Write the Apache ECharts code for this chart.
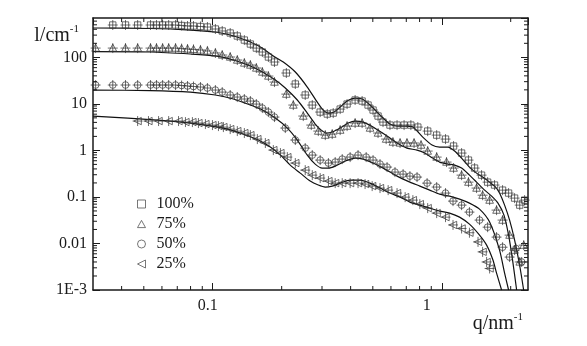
<!DOCTYPE html>
<html>
<head>
<meta charset="utf-8">
<script src="https://cdn.jsdelivr.net/npm/echarts@6/dist/echarts.min.js"></script>
<style>html,body{margin:0;padding:0;background:#fff;}#c{width:587px;height:346px;}</style>
</head>
<body>
<div id="c"></div>
<script>
// ---------- data ----------
const seriesNames = ['100%', '75%', '50%', '25%'];

const q100 = [0.0366,0.0416,0.047,0.0535,0.0568,0.0604,0.0642,0.0688,0.0731,0.0776,0.0824,0.0884,0.0948,0.1027,0.110,0.1192,0.128,0.1374,0.146,0.155,0.1647,0.175,0.186,0.2096,0.2294,0.2534,0.272,0.2945,0.3163,0.3358,0.3601,0.386,0.4185,0.449,0.4766,0.5012,0.527,0.554,0.594,0.638,0.6847,0.733,0.786,0.868,0.950,1.0385,1.126,1.2206,1.308,1.391,1.492,1.586,1.70,1.843,1.958,2.08,2.19,2.30];
const i100 = [495,495,495,495,495,495,495,495,483,471,471,460,448,406,368,333,287,235,193,158,130,101.5,79.3,46,26.7,15.5,9.43,6.66,6.04,6.34,7.73,9.9,12.1,11.5,9.43,7.36,5.47,4.06,3.5,3.5,3.5,3.5,3.17,2.6,2.13,1.75,1.24,0.876,0.619,0.417,0.294,0.208,0.18,0.14,0.121,0.0944,0.0667,0.0854];

const q75 = [0.0308,0.0366,0.0416,0.047,0.0535,0.0568,0.0604,0.0642,0.0688,0.0731,0.0776,0.0824,0.0884,0.0948,0.1027,0.110,0.1192,0.128,0.1374,0.146,0.155,0.1647,0.175,0.186,0.2096,0.2248,0.2485,0.2693,0.289,0.310,0.3324,0.3601,0.386,0.4185,0.449,0.4863,0.527,0.5718,0.612,0.6576,0.7049,0.757,0.812,0.868,0.950,1.049,1.126,1.2206,1.308,1.419,1.508,1.618,1.735,1.843,1.978,2.08,2.19,2.28];
const i75 = [158,158,158,158,158,158,158,158,158,154,151,148,144,137,124,112,101.5,87.5,75.4,68.3,58.9,48.3,39.6,29.4,16.2,9.43,5.47,3.5,2.6,2.13,2.24,2.73,3.33,3.87,3.87,3.02,2.36,1.75,1.51,1.44,1.44,1.44,1.3,0.967,0.718,0.561,0.417,0.294,0.208,0.155,0.109,0.0854,0.0521,0.0318,0.0151,0.0072,0.004,0.0092];

const q50 = [0.0308,0.0366,0.0416,0.047,0.0535,0.0568,0.0604,0.0642,0.0688,0.0731,0.0776,0.0824,0.0884,0.0948,0.1027,0.110,0.1192,0.128,0.1374,0.146,0.155,0.1647,0.175,0.186,0.2074,0.2294,0.2534,0.272,0.2945,0.320,0.3425,0.3676,0.398,0.431,0.4677,0.5012,0.5376,0.577,0.625,0.678,0.726,0.780,0.863,0.950,1.0385,1.12,1.2206,1.321,1.462,1.586,1.735,1.843,1.978,2.108,2.233];
const i50 = [25.4,25.4,25.4,25.4,25.4,25.4,25.4,25.4,25.4,24.8,24.2,23.6,23.0,21.9,19.8,17.9,15.5,14.0,12.7,11.5,9.9,8.12,6.66,5.2,3.02,1.67,1.12,0.793,0.619,0.534,0.561,0.65,0.718,0.793,0.718,0.619,0.508,0.438,0.342,0.309,0.28,0.267,0.198,0.163,0.121,0.0813,0.0667,0.0472,0.0318,0.0224,0.0137,0.0083,0.0051,0.0078,0.004];

const q25 = [0.047,0.0524,0.058,0.0642,0.0709,0.076,0.0815,0.0866,0.0929,0.0997,0.1059,0.1113,0.1192,0.128,0.1374,0.146,0.1566,0.1697,0.1839,0.1975,0.2117,0.2294,0.2534,0.272,0.2945,0.320,0.3425,0.3676,0.398,0.431,0.4626,0.4967,0.5376,0.5834,0.638,0.692,0.748,0.802,0.868,0.950,1.0385,1.12,1.2206,1.321,1.44,1.508,1.57,1.618];
const i25 = [4.27,4.27,4.27,4.27,4.27,4.06,4.06,3.87,3.68,3.5,3.33,3.17,2.87,2.6,2.36,2.13,1.75,1.44,1.016,0.876,0.718,0.534,0.377,0.294,0.254,0.219,0.198,0.198,0.198,0.198,0.189,0.171,0.155,0.14,0.121,0.099,0.0854,0.0701,0.0575,0.0449,0.0368,0.025,0.021,0.017,0.0108,0.0066,0.004,0.0029];

// fitted model curves
const fitQ100 = [0.030,0.0535,0.0799,0.1027,0.1192,0.1388,0.1614,0.1839,0.2033,0.2294,0.2587,0.286,0.3035,0.320,0.339,0.3601,0.386,0.4185,0.449,0.4863,0.5376,0.594,0.638,0.692,0.748,0.826,0.907,0.9785,1.065,1.138,1.2206,1.321,1.419,1.508,1.618,1.718,1.788,1.881,1.978,2.0805,2.188,2.278];
const fitI100 = [427,416,386,350,302,235,167,107,79.3,48.3,23,10.9,7.36,6.34,6.66,8.54,11.5,13.3,12.7,9.43,5.74,3.68,3.33,3.33,3.17,1.93,1.3,1.18,1.18,0.967,0.683,0.438,0.325,0.267,0.208,0.163,0.121,0.0667,0.0318,0.0118,0.0034,0.001];

const fitQ75 = [0.030,0.0535,0.0799,0.1027,0.1231,0.146,0.1647,0.1876,0.2074,0.234,0.2587,0.2801,0.2977,0.313,0.3324,0.3601,0.3906,0.4185,0.4539,0.5012,0.577,0.638,0.7049,0.780,0.843,0.9125,0.9785,1.065,1.138,1.2206,1.321,1.419,1.539,1.651,1.760,1.869,1.958,2.038,2.123];
const fitI75 = [132,130,118,107,87.5,65,48.3,32.5,21.9,12.1,6.34,3.68,2.73,2.36,2.48,3.02,3.87,4.27,4.06,3.17,2.03,1.44,1.12,1.016,0.876,0.683,0.561,0.508,0.483,0.417,0.294,0.208,0.14,0.104,0.0737,0.0407,0.0151,0.0044,0.001];

const fitQ50 = [0.030,0.0535,0.0799,0.1027,0.1231,0.146,0.1647,0.1876,0.2117,0.234,0.2587,0.2801,0.3007,0.320,0.3425,0.3786,0.4185,0.4539,0.5012,0.565,0.638,0.726,0.802,0.886,0.9785,1.0818,1.196,1.321,1.462,1.618,1.788,1.881,1.958];
const fitI50 = [19.8,19.3,17.9,15.5,12.7,9.43,7.36,4.95,3.02,1.67,0.793,0.508,0.417,0.417,0.46,0.589,0.683,0.65,0.534,0.396,0.28,0.208,0.171,0.14,0.115,0.104,0.0898,0.0737,0.0547,0.0288,0.0072,0.0023,0.001];

const fitQ25 = [0.030,0.0574,0.0799,0.1113,0.132,0.1582,0.1784,0.1975,0.218,0.241,0.2664,0.289,0.310,0.3324,0.3601,0.398,0.440,0.4863,0.5376,0.594,0.6576,0.726,0.802,0.886,0.9785,1.0818,1.196,1.321,1.462,1.57,1.673,1.735,1.825];
const fitI25 = [5.47,4.48,3.87,3.02,2.36,1.67,1.18,0.793,0.483,0.325,0.219,0.18,0.163,0.171,0.198,0.23,0.23,0.198,0.155,0.121,0.099,0.0774,0.0667,0.0575,0.0496,0.0449,0.0368,0.026,0.0151,0.0092,0.0044,0.0023,0.001];

// axes
const X_MIN = 0.03, X_MAX = 2.38;
const Y_MIN = 0.001, Y_MAX = 700;
const xTickValues = [0.1, 1];
const xTickLabels = ['0.1', '1'];
const yTickValues = [0.001, 0.01, 0.1, 1, 10, 100];
const yTickLabels = ['1E-3', '0.01', '0.1', '1', '10', '100'];
const xMinorTicks = [0.04,0.05,0.06,0.07,0.08,0.09,0.2,0.3,0.4,0.5,0.6,0.7,0.8,0.9,2];
const yMinorTicks = [];
[0.001,0.01,0.1,1,10,100].forEach(function (d) {
  [2,3,4,5,6,7,8,9].forEach(function (m) { if (d * m < Y_MAX) yMinorTicks.push(d * m); });
});

// ---------- chart ----------
const FONT = '"Liberation Serif", "Times New Roman", serif';
const INK = '#1a1a1a';
const CROSS = ' M6,0L6,12 M0,6L12,6';
const symbols = [
  'path://M2.2,2.2L9.8,2.2L9.8,9.8L2.2,9.8Z' + CROSS,
  'path://M6,1.2L10.6,9.8L1.4,9.8Z' + CROSS,
  'path://M2,6A4,4 0 1,1 10,6A4,4 0 1,1 2,6Z' + CROSS,
  'path://M1.4,6L10.4,1.6L10.4,10.4Z' + CROSS
];
const legendIcons = [
  'path://M0,0L10,0L10,10L0,10Z',
  'path://M5,0L10,9L0,9Z',
  'path://M0,5A5,5 0 1,1 10,5A5,5 0 1,1 0,5Z',
  'path://M0,5L10,0L10,10Z'
];
const dataQ = [q100, q75, q50, q25];
const dataI = [i100, i75, i50, i25];
const fitQ = [fitQ100, fitQ75, fitQ50, fitQ25];
const fitI = [fitI100, fitI75, fitI50, fitI25];

function pair(qs, is) { return qs.map(function (q, k) { return [q, is[k]]; }); }
function labelFor(v, vals, labs) {
  for (let k = 0; k < vals.length; k++) {
    if (Math.abs(Math.log10(v) - Math.log10(vals[k])) < 1e-6) return labs[k];
  }
  return '';
}

const series = [];
for (let s = 0; s < 4; s++) {
  series.push({
    type: 'line', name: 'fit ' + seriesNames[s],
    data: pair(fitQ[s], fitI[s]),
    showSymbol: false, symbol: 'none', smooth: 0.25,
    lineStyle: { color: '#111', width: 1.2 }, z: 3, silent: true
  });
}
for (let s = 0; s < 4; s++) {
  series.push({
    type: 'scatter', name: seriesNames[s],
    data: pair(dataQ[s], dataI[s]),
    symbol: symbols[s], symbolSize: 10,
    itemStyle: { color: 'transparent', borderColor: '#333', borderWidth: 0.9 },
    z: 4, silent: true
  });
}
function tickSeries(values, dir) {
  return {
    type: 'custom', silent: true, z: 6, clip: false,
    data: values.map(function (v) { return dir === 'x' ? [v, Y_MIN] : [X_MIN, v]; }),
    renderItem: function (params, api) {
      const cs = params.coordSys;
      const p = api.coord([api.value(0), api.value(1)]);
      const L = 4;
      const st = { stroke: INK, lineWidth: 1 };
      if (dir === 'x') {
        return { type: 'group', children: [
          { type: 'line', shape: { x1: p[0], y1: cs.y + cs.height, x2: p[0], y2: cs.y + cs.height - L }, style: st },
          { type: 'line', shape: { x1: p[0], y1: cs.y, x2: p[0], y2: cs.y + L }, style: st }
        ] };
      }
      return { type: 'group', children: [
        { type: 'line', shape: { x1: cs.x, y1: p[1], x2: cs.x + L, y2: p[1] }, style: st },
        { type: 'line', shape: { x1: cs.x + cs.width, y1: p[1], x2: cs.x + cs.width - L, y2: p[1] }, style: st }
      ] };
    }
  };
}
series.push(tickSeries(xMinorTicks, 'x'));
series.push(tickSeries(yMinorTicks, 'y'));

const axisLineStyle = { show: true, lineStyle: { color: INK, width: 1.5 } };
const majorTick = { show: true, inside: true, length: 7, lineStyle: { color: INK, width: 1 } };

const option = {
  animation: false,
  backgroundColor: '#fff',
  grid: { left: 93, top: 18, width: 435, height: 272, containLabel: false },
  legend: {
    orient: 'vertical', left: 137, top: 196, padding: 0,
    itemWidth: 8, itemHeight: 8, itemGap: 4,
    textStyle: { fontFamily: FONT, fontSize: 16, color: INK, lineHeight: 16, padding: [0, 0, 0, 6] },
    data: seriesNames.map(function (n, k) {
      return { name: n, icon: legendIcons[k], itemStyle: { color: '#fff', borderColor: '#555', borderWidth: 1 } };
    })
  },
  xAxis: [{
    type: 'log', min: X_MIN, max: X_MAX, position: 'bottom',
    axisLine: axisLineStyle, axisTick: majorTick, splitLine: { show: false },
    axisLabel: {
      margin: 8, showMinLabel: false, showMaxLabel: false,
      fontFamily: FONT, fontSize: 16, color: INK,
      formatter: function (v) {
        const t = labelFor(v, xTickValues, xTickLabels);
        if (!t) return '';
        return t === '1' ? '{b|' + t + '}' : '{a|' + t + '}';
      },
      rich: {
        a: { fontFamily: FONT, fontSize: 16, color: INK, padding: [0, 10, 0, 0] },
        b: { fontFamily: FONT, fontSize: 16, color: INK, padding: [0, 30, 0, 0] }
      }
    },
    name: '{m|q/nm}{s|-1}', nameLocation: 'end', nameGap: -5,
    nameTextStyle: {
      align: 'right', verticalAlign: 'top', padding: [22, 0, 0, 0],
      rich: {
        m: { fontFamily: FONT, fontSize: 20, color: INK, lineHeight: 22, verticalAlign: 'bottom' },
        s: { fontFamily: FONT, fontSize: 11, color: INK, lineHeight: 22, verticalAlign: 'top' }
      }
    }
  }, {
    type: 'log', min: X_MIN, max: X_MAX, position: 'top',
    axisLine: axisLineStyle, axisTick: majorTick, axisLabel: { show: false }, splitLine: { show: false }
  }],
  yAxis: [{
    type: 'log', min: Y_MIN, max: Y_MAX, position: 'left',
    axisLine: axisLineStyle, axisTick: majorTick, splitLine: { show: false },
    axisLabel: {
      margin: 6, showMaxLabel: false,
      fontFamily: FONT, fontSize: 16, color: INK,
      formatter: function (v) { return labelFor(v, yTickValues, yTickLabels); }
    },
    name: '{m|l/cm}{s|-1}', nameLocation: 'end', nameGap: -6,
    nameTextStyle: {
      align: 'right', verticalAlign: 'top', padding: [0, 14, 0, 0],
      rich: {
        m: { fontFamily: FONT, fontSize: 20, color: INK, lineHeight: 22, verticalAlign: 'bottom' },
        s: { fontFamily: FONT, fontSize: 11, color: INK, lineHeight: 22, verticalAlign: 'top' }
      }
    }
  }, {
    type: 'log', min: Y_MIN, max: Y_MAX, position: 'right',
    axisLine: axisLineStyle, axisTick: majorTick, axisLabel: { show: false }, splitLine: { show: false }
  }],
  series: series
};

const chart = echarts.init(document.getElementById('c'), null, { renderer: 'canvas' });
chart.setOption(option);
</script>
</body>
</html>
